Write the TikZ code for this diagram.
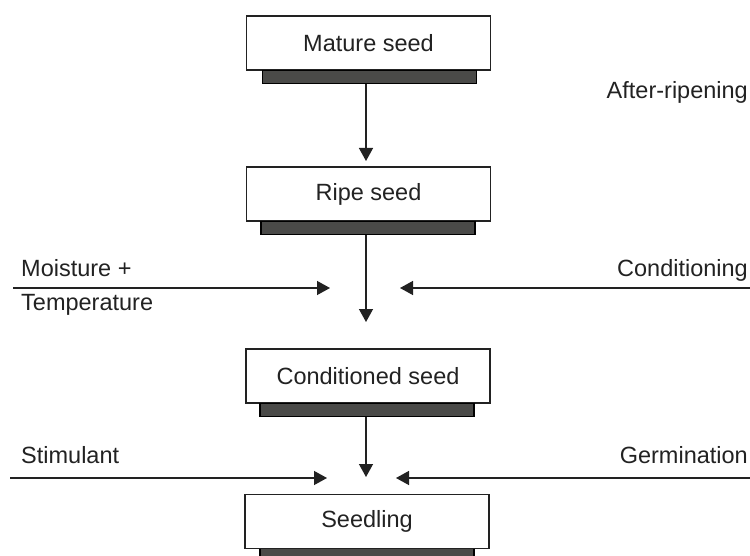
\documentclass[tikz,border=0pt]{standalone}
\usepackage{fontspec}
\setmainfont{Liberation Sans}
\usetikzlibrary{arrows.meta}
\definecolor{ink}{HTML}{222222}
\definecolor{barfill}{HTML}{4A4A48}
\tikzset{
  stagebox/.style={draw=ink, line width=1.4pt, fill=white, minimum width=244pt, minimum height=54pt, inner sep=0pt, font=\fontsize{23.5}{26}\selectfont, text=ink},
  shadowbar/.style={draw=black, line width=1.2pt, fill=barfill, minimum width=214pt, minimum height=13pt, inner sep=0pt},
  flow/.style={draw=ink, line width=1.4pt, -{Triangle[length=13pt,width=14pt]}},
  lbl/.style={font=\fontsize{23.5}{26}\selectfont, text=ink, inner sep=0pt}
}
\begin{document}
\begin{tikzpicture}[x=1pt,y=-1pt]
\useasboundingbox (0,0) rectangle (750,556);
% stage boxes
\node[stagebox] (mature) at (368.5,43) {Mature seed};
\node[shadowbar, anchor=north] (mbar) at (369.5,70) {};
\node[stagebox] (ripe) at (368.5,194) {Ripe seed};
\node[shadowbar, anchor=north] (rbar) at (368,221) {};
\node[stagebox] (cond) at (368,376) {Conditioned seed};
\node[shadowbar, anchor=north] (cbar) at (367,403) {};
\node[shadowbar, anchor=north, minimum height=16pt] (sbar) at (367,548) {};
\node[stagebox] (seedling) at (367,521.5) {Seedling};
% arrow tips and line ends
\coordinate (t1) at (366,161);
\coordinate (t2) at (366,322);
\coordinate (t3) at (366,477);
\coordinate (l1s) at (13,288);
\coordinate (l1e) at (330,288);
\coordinate (r1s) at (750,288);
\coordinate (r1e) at (400,288);
\coordinate (l2s) at (10,478);
\coordinate (l2e) at (327,478);
\coordinate (r2s) at (750,478);
\coordinate (r2e) at (396,478);
% vertical arrows
\draw[flow] (mbar.south -| t1) -- (t1);
\draw[flow] (rbar.south -| t2) -- (t2);
\draw[flow] (cbar.south -| t3) -- (t3);
% horizontal arrows
\draw[flow] (l1s) -- (l1e);
\draw[flow] (r1s) -- (r1e);
\draw[flow] (l2s) -- (l2e);
\draw[flow] (r2s) -- (r2e);
% labels
\node[lbl, anchor=east] (after) at (748,92) {After-ripening};
\node[lbl, anchor=east] (condl) at (748,270) {Conditioning};
\node[lbl, anchor=east] (germ) at (748,455) {Germination};
\node[lbl, anchor=west] (moist) at (21,268) {Moisture +};
\node[lbl, anchor=west] (temp) at (21,305) {Temperature};
\node[lbl, anchor=west] (stim) at (21,455) {Stimulant};
\end{tikzpicture}
\end{document}
